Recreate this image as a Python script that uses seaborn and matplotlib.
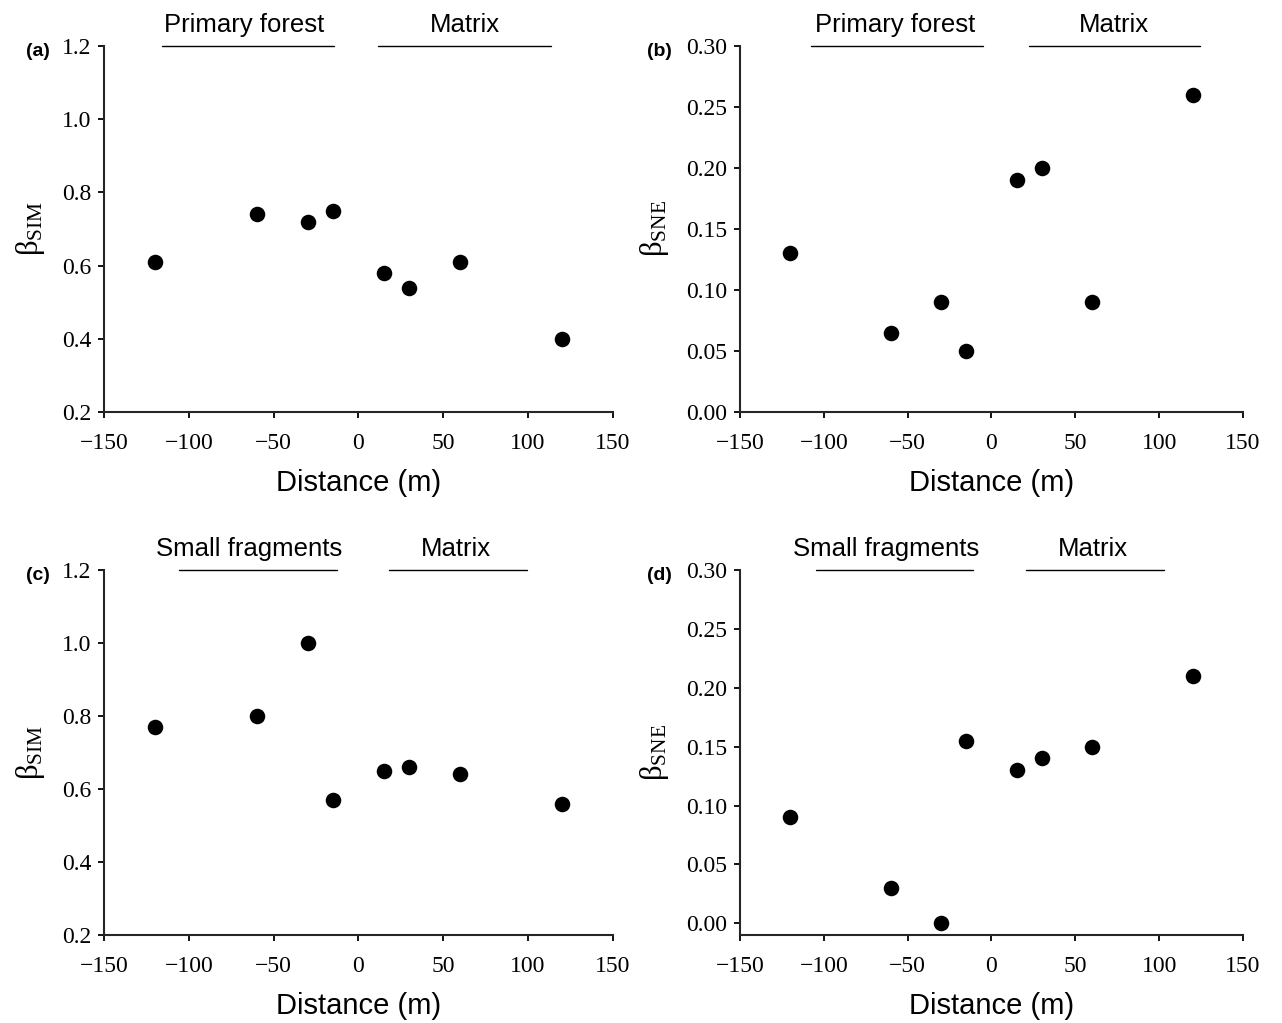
"""
plot.py — beta turnover (SIM) and nestedness (SNE) against distance from the edge.

    python plot.py
"""

import pandas as pd
import matplotlib
matplotlib.use('Agg')
import matplotlib.pyplot as plt
from matplotlib.ticker import FormatStrFormatter, MultipleLocator
import seaborn as sns

# distance classes (m), negative = inside the forest / fragment
distance = [-120, -60, -30, -15, 15, 30, 60, 120]

# panel values
sim_primary = [0.61, 0.74, 0.72, 0.75, 0.58, 0.54, 0.61, 0.40]
sne_primary = [0.13, 0.065, 0.09, 0.05, 0.19, 0.20, 0.09, 0.26]
sim_small   = [0.77, 0.80, 1.00, 0.57, 0.65, 0.66, 0.64, 0.56]
sne_small   = [0.09, 0.03, 0.00, 0.155, 0.13, 0.14, 0.15, 0.21]

habitat_names = ['Primary forest', 'Primary forest', 'Small fragments', 'Small fragments']
panel_tags    = ['(a)', '(b)', '(c)', '(d)']
y_labels      = [r'$\mathrm{\beta}_{\mathrm{SIM}}$', r'$\mathrm{\beta}_{\mathrm{SNE}}$'] * 2

sns.set_style('ticks')
plt.rcParams['font.family'] = ['Liberation Serif', 'DejaVu Serif']
plt.rcParams['mathtext.fontset'] = 'custom'
plt.rcParams['mathtext.rm'] = 'Liberation Serif'
plt.rcParams['mathtext.it'] = 'Liberation Serif'
plt.rcParams['axes.linewidth'] = 1.5
plt.rcParams['text.color'] = 'black'
plt.rcParams['axes.labelcolor'] = 'black'

SANS = ['Liberation Sans', 'DejaVu Sans']

fig = plt.figure(figsize=(12.82, 10.23), dpi=100)

# axes boxes in figure fraction: left, bottom, width, height
boxes = [
    [0.0811, 0.5973, 0.3970, 0.3578],
    [0.5772, 0.5973, 0.3924, 0.3578],
    [0.0811, 0.0860, 0.3970, 0.3568],
    [0.5772, 0.0860, 0.3924, 0.3568],
]
# header bars (axes fraction) and header text centres
bars = [
    [(0.114, 0.452), (0.538, 0.878)],
    [(0.141, 0.483), (0.575, 0.915)],
    [(0.147, 0.458), (0.560, 0.831)],
    [(0.151, 0.463), (0.569, 0.843)],
]
text_x = [(0.276, 0.709), (0.308, 0.744), (0.285, 0.692), (0.290, 0.702)]
tag_x  = [-0.106, -0.135, -0.106, -0.135]

series = [sim_primary, sne_primary, sim_small, sne_small]

for i, (box, ys) in enumerate(zip(boxes, series)):
    ax = fig.add_axes(box)
    df = pd.DataFrame({'distance': distance, 'beta': ys})
    sns.scatterplot(data=df, x='distance', y='beta', ax=ax,
                    color='black', s=125, edgecolor='black', linewidth=0,
                    clip_on=False, zorder=3)

    ax.set_xlim(-150, 150)
    ax.xaxis.set_major_locator(MultipleLocator(50))
    if i % 2 == 0:
        ax.set_ylim(0.2, 1.2)
        ax.yaxis.set_major_locator(MultipleLocator(0.2))
        ax.yaxis.set_major_formatter(FormatStrFormatter('%.1f'))
    else:
        ax.set_ylim(0.0 if i == 1 else -0.01, 0.30)
        ax.set_yticks([0.0, 0.05, 0.10, 0.15, 0.20, 0.25, 0.30])
        ax.yaxis.set_major_formatter(FormatStrFormatter('%.2f'))

    sns.despine(ax=ax)
    ax.tick_params(direction='out', length=4, width=1.3, labelsize=17,
                   colors='black')
    ax.tick_params(axis='x', pad=11)
    ax.tick_params(axis='y', pad=5)

    ax.set_xlabel('Distance (m)', fontsize=21, family=SANS, labelpad=11)
    ax.set_ylabel(y_labels[i], fontsize=22, labelpad=11)

    # habitat header bars and names
    for (x0, x1), tx, name in zip(bars[i], text_x[i], [habitat_names[i], 'Matrix']):
        ax.plot([x0, x1], [1.0, 1.0], transform=ax.transAxes, color='black',
                linewidth=1.0, clip_on=False)
        ax.text(tx, 1.025, name, transform=ax.transAxes, ha='center',
                va='bottom', fontsize=18.5, family=SANS)

    ax.text(tag_x[i], 0.985, panel_tags[i], transform=ax.transAxes, ha='right',
            va='center', fontsize=14, fontweight='bold', family=SANS)

plt.savefig('out.png', dpi=100)
plt.close()
